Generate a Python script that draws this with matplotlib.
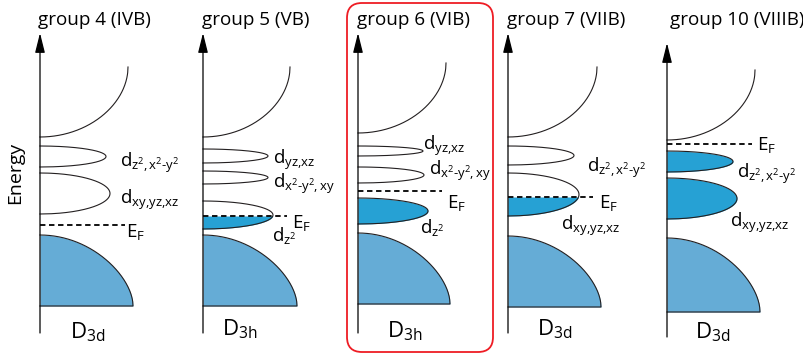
import numpy as np
import matplotlib.pyplot as plt
from matplotlib.patches import FancyBboxPatch

plt.rcParams['font.family'] = ['Open Sans', 'DejaVu Sans']
plt.rcParams['mathtext.fontset'] = 'custom'
plt.rcParams['mathtext.rm'] = 'Open Sans'
plt.rcParams['mathtext.it'] = 'Open Sans'
plt.rcParams['mathtext.default'] = 'regular'

## Data (energy scale in arbitrary units, up = higher energy) ##

titles = ['group 4 (IVB)', 'group 5 (VB)', 'group 6 (VIB)', 'group 7 (VIIB)', 'group 10 (VIIIB)']
symmetry = ['D$_{3d}$', 'D$_{3h}$', 'D$_{3h}$', 'D$_{3d}$', 'D$_{3d}$']

# Fermi level of each panel
e_fermi = [130, 139, 164, 158, 211]

# d-band lobes: top edge, bottom edge, peak DOS
lobe_top = [[209, 182], [206, 184, 154], [209, 188, 157], [209, 182], [204, 177]]
lobe_bot = [[188, 141], [192, 171, 126], [199, 172, 131], [190, 139], [183, 136]]
lobe_dos = [[66, 70], [65, 65, 70], [65, 66, 70], [66, 71], [66, 70]]
z2x2y2 = r'd$_{z^2{,}\,x^2\text{-}y^2}$'
x2y2xy = r'd$_{x^2\text{-}y^2{,}\,xy}$'
xyz = r'd$_{xy{,}yz{,}xz}$'
yzxz = r'd$_{yz{,}xz}$'
lobe_names = [
    [z2x2y2, xyz],
    [yzxz, x2y2xy, r'd$_{z^2}$'],
    [yzxz, x2y2xy, r'd$_{z^2}$'],
    [z2x2y2, xyz],
    [z2x2y2, xyz],
]

# upper continuum: onset, top, DOS at top
up_start = [218, 218, 222, 218, 215]
up_end = [288, 288, 292, 288, 285]
up_dos = [88, 87, 88, 89, 88]

# lower (filled) band: top, bottom, DOS at bottom
low_top = [120, 120, 122, 119, 117]
low_bot = [49, 49, 51, 48, 43]
low_dos = [93, 94, 92, 93, 93]

## Layout ##
axis_x = [40, 203, 358, 508, 667]
axis_lo = [22, 22, 22, 22, 18]
axis_hi = [322, 322, 322, 322, 312]
title_dx = [-2, -1, -1, -1, 3]
lobe_lbl = [[(80, 188), (80, 151)],
            [(70, 191), (70, 167), (69, 114)],
            [(65, 205), (71, 180), (62, 122)],
            [(79, 183), (53, 125)],
            [(70, 177), (63, 128)]]
ef_lbl = [(86, 118), (89, 127), (89, 147), (91, 147), (90, 205)]
ef_len = [85, 84, 84, 85, 85]
sym_lbl = [(30, 17), (19, 20), (29, 18), (29, 20), (28, 17)]

band_col = '#65acd6'
lobe_col = '#26a1d4'
edge = '#231f20'
lw = 0.8


def shape(t, w):
    # mostly a quarter ellipse, bent a little towards a parabola
    return w * (1 - np.sqrt(1 - t**2)) + (1 - w) * t**2


fig = plt.figure(figsize=(8.04, 3.55), dpi=100)
ax = fig.add_axes([0, 0, 1, 1])
ax.set_xlim(0, 804)
ax.set_ylim(0, 355)
ax.axis('off')

t = np.linspace(0, 1, 300)
s = np.linspace(-1, 1, 300)

for i in range(5):
    x0 = axis_x[i]

    # energy axis
    ax.annotate('', xy=(x0, axis_hi[i]), xytext=(x0, axis_lo[i]),
                arrowprops=dict(arrowstyle='-|>,head_length=1.2,head_width=0.3',
                                mutation_scale=10, lw=0.9, color='black',
                                shrinkA=0, shrinkB=0))
    ax.text(x0 + title_dx[i], 330, titles[i], fontsize=13.6, ha='left', va='baseline')

    # upper continuum
    ax.plot(x0 + up_dos[i] * t, up_start[i] + (up_end[i] - up_start[i]) * shape(t, 0.95),
            color=edge, lw=lw)

    # lower band
    xs = x0 + low_dos[i] * t
    ys = low_top[i] - (low_top[i] - low_bot[i]) * shape(t, 0.75)
    ax.fill_between(xs, low_bot[i], ys, color=band_col, lw=0)
    ax.plot(np.r_[xs, x0], np.r_[ys, low_bot[i]], color=edge, lw=lw)

    # d lobes
    for j in range(len(lobe_top[i])):
        mid = 0.5 * (lobe_top[i][j] + lobe_bot[i][j])
        half = 0.5 * (lobe_top[i][j] - lobe_bot[i][j])
        e = mid + half * s
        d = lobe_dos[i][j] * np.sqrt(np.clip(1 - s**2, 0, None))
        m = e <= e_fermi[i]
        if m.any():
            ef = min(e_fermi[i], lobe_top[i][j])
            ee = np.r_[e[m], ef]
            dd = np.r_[d[m], lobe_dos[i][j] * np.sqrt(max(1 - ((ef - mid) / half)**2, 0))]
            ax.fill_betweenx(ee, x0, x0 + dd, color=lobe_col, lw=0)
        ax.plot(x0 + d, e, color=edge, lw=lw)
        dx, ey = lobe_lbl[i][j]
        ax.text(x0 + dx, ey, lobe_names[i][j], fontsize=13.5, ha='left', va='baseline')

    # Fermi level
    ax.plot([x0, x0 + ef_len[i]], [e_fermi[i], e_fermi[i]], color='black',
            lw=1.3, dashes=(3, 2))
    ax.text(x0 + ef_lbl[i][0], ef_lbl[i][1], 'E$_F$', fontsize=13.5, ha='left', va='baseline')
    ax.text(x0 + sym_lbl[i][0], sym_lbl[i][1], symmetry[i], fontsize=16,
            ha='left', va='baseline')

ax.text(15, 182, 'Energy', fontsize=14, rotation=90, ha='center', va='center')

# highlight group 6
ax.add_patch(FancyBboxPatch((347, 3), 146, 349, boxstyle='round,pad=0,rounding_size=15',
                            fill=False, edgecolor='#ee1c24', lw=1.3))

fig.savefig('out.png', dpi=100)
